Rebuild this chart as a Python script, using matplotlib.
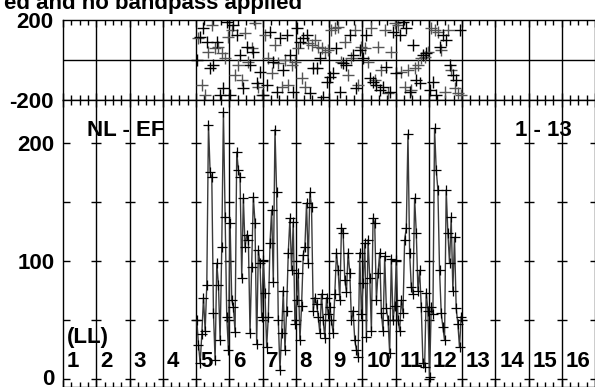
import numpy as np
import matplotlib
matplotlib.use("Agg")
import matplotlib.pyplot as plt
from matplotlib.transforms import ScaledTranslation

plt.rcParams['font.family'] = ['Liberation Sans', 'DejaVu Sans']
plt.rcParams['font.weight'] = 'bold'
plt.rcParams['font.size'] = 16

# Channels (LL) shown along the x axis, and the ones that carry data
channels = list(range(1, 17))
data_channels = [5, 6, 7, 8, 9, 10, 11, 12]

# Amplitude per channel (20 samples each)
amp_5 = [50, 29, 14, 38, 69, 41, 80, 215, 175, 171, 56, 16, 98, 80, 33, 112, 226, 137, 53, 25]
amp_6 = [132, 67, 61, 40, 192, 177, 171, 86, 153, 112, 122, 118, 39, 95, 154, 132, 30, 109, 98, 53]
amp_7 = [101, 73, 27, 53, 115, 143, 82, 211, 158, 50, 8, 39, 75, 25, 58, 107, 136, 92, 133, 47]
amp_8 = [67, 90, 33, 62, 105, 112, 149, 98, 158, 146, 58, 69, 64, 53, 39, 72, 50, 35, 69, 55]
amp_9 = [61, 50, 39, 72, 107, 92, 67, 128, 124, 84, 74, 107, 90, 50, 58, 33, 25, 19, 107, 55]
amp_10 = [81, 115, 36, 118, 86, 41, 136, 132, 67, 90, 107, 56, 41, 104, 60, 50, 22, 102, 50, 62]
amp_11 = [101, 50, 41, 67, 56, 118, 128, 207, 107, 78, 72, 153, 124, 75, 92, 61, 14, 10, 73, 58]
amp_12 = [2, 61, 55, 212, 177, 160, 92, 56, 44, 33, 160, 124, 98, 137, 75, 120, 60, 47, 27, 53]

# Phase per channel (degrees)
ph_5 = [0, 108, 117, -125, 158, -175, 92, 42, -42, 175, -25, 58, 92, 67, -175, 33, -142, 8, 192, 117]
ph_6 = [-175, 150, 175, -75, 125, -25, 25, -100, -142, 133, 67, -8, -25, 58, 42, 183, -117, -133, -58, -175]
ph_7 = [-175, 125, -125, 8, 142, -67, -8, 75, -158, -17, 108, -133, -50, 0, 125, -125, 25, -25, -158, -8]
ph_8 = [158, 58, 92, -92, 108, -133, 125, 83, -167, 75, -42, 100, -42, 67, 8, 58, -183, 42, -108, 50]
ph_9 = [-83, 150, -67, 158, 58, 167, -158, -8, -17, 92, -25, -75, 125, 8, 25, 150, -142, -125, 50, 67]
ph_10 = [8, 58, 125, -8, -92, 158, -108, -100, -125, 67, -150, -50, -133, 150, -33, -167, -158, 42, 142, 183]
ph_11 = [-67, 175, 125, -58, 192, -133, 158, -50, -158, -150, 75, -42, -100, -25, -117, 8, 25, 17, 33, 42]
ph_12 = [-150, 158, -108, 150, -175, 142, 67, 50, 125, -158, 100, 150, -25, -50, -75, -142, -100, -167, 150, -175]

amps = [amp_5, amp_6, amp_7, amp_8, amp_9, amp_10, amp_11, amp_12]
phases = [ph_5, ph_6, ph_7, ph_8, ph_9, ph_10, ph_11, ph_12]

# spread samples of each channel across its column
x, amp, ph = [], [], []
for ch, a, p in zip(data_channels, amps, phases):
    n = len(a)
    x.extend((ch - 1) + (np.arange(n) + 0.5) / n)
    amp.extend(a)
    ph.extend(p)
x = np.array(x)
amp = np.array(amp)
ph = np.array(ph)

fig = plt.figure(figsize=(5.95, 3.87), dpi=100)
left = 63 / 595
split = 1 - 100 / 387
top = 1 - 20 / 387
ax1 = fig.add_axes([left, split, 1 - left, top - split])
ax2 = fig.add_axes([left, 0, 1 - left, split])

# --- phase panel ---
ax1.set_xlim(0, 16)
ax1.set_ylim(-200, 200)
for k in range(1, 16):
    ax1.axvline(k, color='k', lw=1, zorder=1)
ax1.axhline(0, color='k', lw=1, zorder=1)
ax1.plot(x[::2], ph[::2], ls='none', marker='+', ms=8.5, mec='k', mew=1, zorder=3)
ax1.plot(x[1::2], ph[1::2], ls='none', marker='+', ms=8.5, mec='#555555', mew=1, zorder=2)
ax1.set_yticks([-200, 200])
ax1.set_yticklabels(['-200', '200'])
ax1.set_xticks(range(17))
ax1.set_xticks(np.arange(0, 16.01, 0.25), minor=True)
ax1.tick_params(axis='x', which='both', direction='in', top=True, bottom=True,
                labelbottom=False, width=1)
ax1.tick_params(axis='x', which='major', length=5)
ax1.tick_params(axis='x', which='minor', length=3.5)
ax1.tick_params(axis='y', length=0, pad=7)

# --- amplitude panel ---
ax2.set_xlim(0, 16)
ax2.set_ylim(-6.5, 236)
for k in range(1, 16):
    ax2.axvline(k, color='k', lw=1, zorder=1)
gx, gy = np.meshgrid(range(1, 17), [0, 50, 100, 150, 200])
ax2.plot(gx.ravel(), gy.ravel(), ls='none', marker='_', ms=7.5, mec='k', mew=1, zorder=1)
ax2.plot(x, amp, color='#3a3a3a', lw=1.0, marker='+', ms=6.5, mec='k', mew=0.9, zorder=3)
ax2.set_yticks([0, 100, 200])
ax2.set_yticks([50, 150], minor=True)
ax2.tick_params(axis='y', which='both', direction='in', length=5, width=1, pad=6)
ax2.set_xticks(range(17))
ax2.set_xticks(np.arange(0, 16.01, 0.25), minor=True)
ax2.tick_params(axis='x', which='both', direction='in', top=True, bottom=True,
                labelbottom=False, width=1)
ax2.tick_params(axis='x', which='major', length=5)
ax2.tick_params(axis='x', which='minor', length=3.5)

# lift the "0" label a touch so it stays inside the canvas
zero_lbl = ax2.get_yticklabels()[0]
zero_lbl.set_transform(zero_lbl.get_transform() + ScaledTranslation(0, 1.5 / 72, fig.dpi_scale_trans))

for ax in (ax1, ax2):
    for s in ax.spines.values():
        s.set_linewidth(1)

for ch in channels:
    ax2.text(ch - 1 + 0.12, 10.5, str(ch), va='baseline', ha='left')
ax2.text(0.12, 31, '(LL)', va='baseline', ha='left')
ax2.text(0.72, 206, 'NL - EF', va='baseline', ha='left')
ax2.text(13.6, 206, '1 - 13', va='baseline', ha='left')

fig.text(302 / 595, 1 - 8.5 / 387, 'ed and no bandpass applied', ha='right', va='baseline')

fig.savefig('out.png', dpi=100)
